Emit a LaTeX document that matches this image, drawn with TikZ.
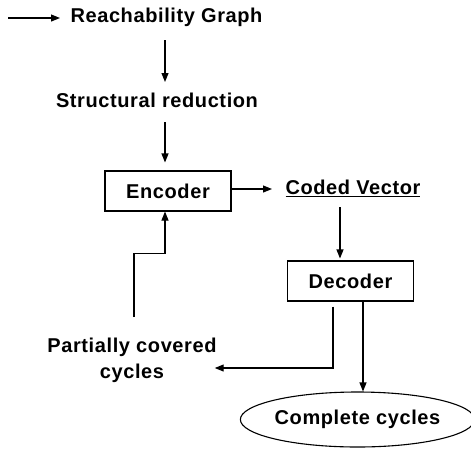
\documentclass[tikz,border=0pt]{standalone}
\usepackage{fontspec}
\newfontfamily\lab[LetterSpace=3]{Liberation Sans}
\usetikzlibrary{arrows.meta,shapes.geometric,calc}
\tikzset{
  lbl/.style={font=\lab\bfseries\fontsize{20}{26}\selectfont, inner sep=2pt},
  boxnode/.style={lbl, draw, line width=1.1pt, minimum width=126pt, minimum height=40pt, inner sep=0pt},
  ellnode/.style={lbl, draw, ellipse, line width=1.1pt, minimum width=225pt, minimum height=55pt, inner sep=0pt},
  arr/.style={line width=1.1pt, -{Triangle[length=9pt,width=7pt]}},
  ln/.style={line width=1.1pt}
}
\begin{document}
\begin{tikzpicture}[x=1pt,y=-1pt]
\useasboundingbox (0,0) rectangle (471,448);
\node[lbl] (rg) at (166.5,17) {Reachability Graph};
\node[lbl] (sr) at (157,100) {Structural reduction};
\node[boxnode] (enc) at (168,191) {Encoder};
\node[lbl] (cv) at (353,188) {\underline{Coded Vector}};
\node[boxnode] (dec) at (350.5,281) {Decoder};
\node[lbl, align=center] (pc) at (132,360) {Partially covered\\cycles};
\node[ellnode] (cc) at (357.5,419.5) {Complete cycles};
\coordinate (s) at (8,18);
\draw[arr] (s) -- (s -| 60,0);
\draw[arr] ([xshift=-3pt]enc.north |- 0,40) -- ([xshift=-3pt]enc.north |- 0,82);
\draw[arr, shorten >=8pt] ([xshift=-3pt]enc.north |- 0,122) -- ([xshift=-3pt]enc.north);
\draw[arr] ([yshift=2pt]enc.east) -- ([yshift=2pt]enc.east -| 272,0);
\draw[arr, shorten >=2pt] ([xshift=-10.5pt]dec.north |- 0,207) -- ([xshift=-10.5pt]dec.north);
\draw[arr] ([xshift=12.5pt]dec.south) -- ([xshift=12.5pt]dec.south |- cc.north);
\draw[arr, shorten <=5pt] ([xshift=-17.5pt]dec.south) |- ([xshift=-4pt,yshift=-8pt]pc.east);
\draw[arr] ([xshift=2pt]pc.north |- 0,317) |- ($([xshift=-3pt]enc.south)+(0,42)$) -- ([xshift=-3pt]enc.south);
\end{tikzpicture}
\end{document}
